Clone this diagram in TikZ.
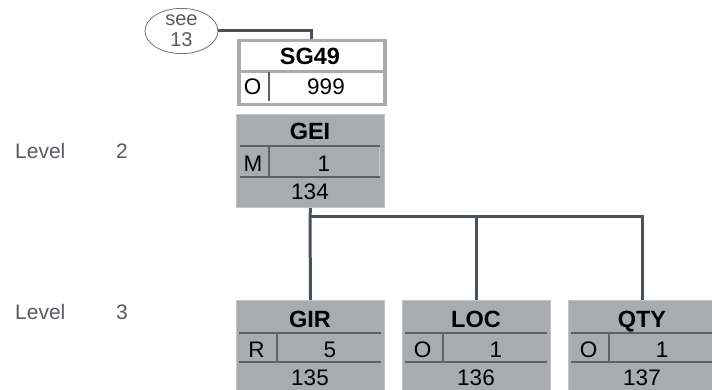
\documentclass[tikz,border=0pt]{standalone}
\usepackage{fontspec}
\setmainfont{Liberation Sans}
\usetikzlibrary{shapes.geometric}
\definecolor{linec}{HTML}{4B5257}
\definecolor{boxfill}{HTML}{A8ABB0}
\definecolor{boxedge}{HTML}{C2C4C7}
\definecolor{innerc}{HTML}{5D6166}
\definecolor{labelc}{HTML}{575B5F}
\tikzset{
  conn/.style={draw=linec, line width=3pt},
  graybox/.style={rectangle, draw=boxedge, line width=1pt, fill=boxfill, minimum width=148pt, minimum height=92pt, anchor=north west, inner sep=0pt},
  whitebox/.style={rectangle, draw=boxfill, line width=3.5pt, fill=white, minimum width=146pt, minimum height=64pt, anchor=north west, inner sep=0pt},
  txt/.style={anchor=base, inner sep=0pt, font=\fontsize{22.5}{22}\selectfont, text=black},
  btxt/.style={anchor=base, inner sep=0pt, font=\fontsize{23.5}{23}\selectfont\bfseries, text=black},
  lbl/.style={anchor=base west, inner sep=0pt, font=\fontsize{21}{21}\selectfont, text=labelc},
  inl/.style={draw=innerc, line width=1.6pt},
  hil/.style={draw=boxedge, line width=1pt},
  grayl/.style={draw=boxfill, line width=3pt},
}
\begin{document}
\begin{tikzpicture}[x=1pt,y=-1pt]
\useasboundingbox (0,0) rectangle (712,390);
\clip (0,0) rectangle (712,390);

% level labels
\node[lbl] (lv2) at (15,159) {Level};
\node[lbl] (lv2n) at (116,159) {2};
\node[lbl] (lv3) at (15,319) {Level};
\node[lbl] (lv3n) at (116,319) {3};

% see 13 ellipse
\node[ellipse, draw=gray!90!black, line width=0.8pt, minimum width=73pt, minimum height=45pt, inner sep=0pt, align=center, text=labelc, font=\fontsize{20}{21}\selectfont] (see) at (181.5,31) {see\\13};

% SG49 box
\node[whitebox] (sg49) at (237,39) {};
\draw[grayl] (237,72) -- (383,72);
\draw[inl] (269,72) -- (269,101);
\node[btxt] (sg49t) at (310,65) {SG49};
\node[txt] (sg49s) at (252.5,95) {O};
\node[txt] (sg49r) at (326,95) {999};

% GEI box
\node[graybox, minimum height=93pt] (gei) at (236,114) {};
\draw[inl] (240,146) -- (380,146);
\draw[inl] (240,177) -- (380,177);
\draw[inl] (269,146) -- (269,177);
\draw[hil] (379.5,147) -- (379.5,176);
\node[btxt] (geit) at (310,140) {GEI};
\node[txt] (geis) at (253,172) {M};
\node[txt] (geir) at (324,172) {1};
\node[txt] (gein) at (310,200) {134};

% children
\foreach \nm/\x/\ti/\st/\rp/\num in {gir/236/GIR/R/5/135, loc/402/LOC/O/1/136, qty/568/QTY/O/1/137}{
  \node[graybox] (\nm) at (\x,300) {};
  \draw[inl] (\x+3,333) -- (\x+145,333);
  \draw[inl] (\x+3,362) -- (\x+145,362);
  \draw[inl] (\x+41,333) -- (\x+41,362);
  \node[btxt] (\nm t) at (\x+74,327) {\ti};
  \node[txt] (\nm s) at (\x+20.5,357) {\st};
  \node[txt] (\nm r) at (\x+94,357) {\rp};
  \node[txt] (\nm n) at (\x+74,385) {\num};
}

% connectors
\coordinate (bus) at (310,217);
\draw[conn] (see.east) -| (sg49.north);
\draw[conn] (gei.south) -- (bus) -- (gir.north);
\draw[conn] (bus) -| (loc.north);
\draw[conn] (bus) -| (qty.north);
\end{tikzpicture}
\end{document}
